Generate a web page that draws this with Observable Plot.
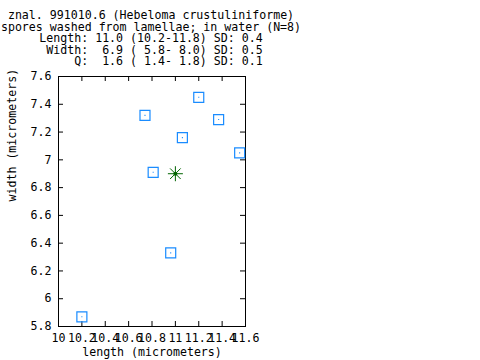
<!DOCTYPE html>
<html>
<head>
<meta charset="utf-8">
<script src="https://cdn.jsdelivr.net/npm/d3@7"></script>
<script src="https://cdn.jsdelivr.net/npm/@observablehq/plot@0.6"></script>
<style>
  html, body { margin: 0; padding: 0; background: #fff; }
  #wrap { width: 480px; height: 360px; position: relative; overflow: hidden; }
  #title {
    width: 302px; padding-top: 10px; height: 58px;
    font-family: "DejaVu Sans Mono", monospace; font-size: 11.6px; line-height: 11.6px;
    white-space: pre; text-align: center; color: #000;
  }
</style>
</head>
<body>
<div id="wrap"><div id="title"></div></div>
<script>
const titleLines = [
  "znal. 991010.6 (Hebeloma crustuliniforme)",
  "spores washed from lamellae; in water (N=8)",
  "Length: 11.0 (10.2-11.8) SD: 0.4",
  " Width:  6.9 ( 5.8- 8.0) SD: 0.5",
  "     Q:  1.6 ( 1.4- 1.8) SD: 0.1"
];
const xLabel = "length (micrometers)";
const yLabel = "width (micrometers)";

const sporeLength = [10.2, 10.74, 10.81, 10.96, 11.06, 11.2, 11.37, 11.55];
const sporeWidth  = [5.87, 7.32, 6.91, 6.33, 7.16, 7.45, 7.29, 7.05];
const meanLength = [11.0];
const meanWidth = [6.9];

const xTicks = [10, 10.2, 10.4, 10.6, 10.8, 11, 11.2, 11.4, 11.6];
const xTickLabels = ["10", "10.2", "10.4", "10.6", "10.8", "11", "11.2", "11.4", "11.6"];
const yTicks = [5.8, 6, 6.2, 6.4, 6.6, 6.8, 7, 7.2, 7.4, 7.6];
const yTickLabels = ["5.8", "6", "6.2", "6.4", "6.6", "6.8", "7", "7.2", "7.4", "7.6"];

document.getElementById("title").textContent = titleLines.join("\n");

const spores = sporeLength.map((x, i) => ({x, y: sporeWidth[i]}));
const means = meanLength.map((x, i) => ({x, y: meanWidth[i]}));

const star8 = {
  draw(context, size) {
    const l = Math.sqrt(size / Math.PI);
    const d = l * Math.SQRT1_2;
    context.moveTo(-l, 0); context.lineTo(l, 0);
    context.moveTo(0, -l); context.lineTo(0, l);
    context.moveTo(-d, -d); context.lineTo(d, d);
    context.moveTo(-d, d); context.lineTo(d, -d);
  }
};

const W = 480, H = 292, mT = 8, mB = 34, mL = 58, mR = 235;
const innerW = W - mL - mR, innerH = H - mT - mB;
const tickLen = 5;
const blue = "#1a8cff", green = "#006400";

const chart = Plot.plot({
  width: W, height: H,
  marginTop: mT, marginBottom: mB, marginLeft: mL, marginRight: mR,
  style: {fontFamily: "'DejaVu Sans Mono', monospace", fontSize: "11.6px", color: "#000", background: "#fff"},
  x: {domain: [10, 11.6], ticks: xTicks, tickFormat: (d, i) => xTickLabels[i], tickSize: 0, tickPadding: 7, label: null},
  y: {domain: [5.8, 7.6], ticks: yTicks, tickFormat: (d, i) => yTickLabels[i], tickSize: 0, tickPadding: 7, label: null},
  marks: [
    Plot.frame({stroke: "#000"}),
    Plot.tickX(xTicks, {x: d => d, insetTop: innerH - tickLen, stroke: "#000"}),
    Plot.tickX(xTicks, {x: d => d, insetBottom: innerH - tickLen, stroke: "#000"}),
    Plot.tickY(yTicks, {y: d => d, insetRight: innerW - tickLen, stroke: "#000"}),
    Plot.tickY(yTicks, {y: d => d, insetLeft: innerW - tickLen, stroke: "#000"}),
    Plot.dot(spores, {x: "x", y: "y", symbol: "square", r: 5.64, stroke: blue, strokeWidth: 1.2, fill: "none"}),
    Plot.dot(spores, {x: "x", y: "y", symbol: "square", r: 0.6, fill: blue, stroke: "none"}),
    Plot.dot(means, {x: "x", y: "y", symbol: star8, r: 7.5, stroke: green, strokeWidth: 1, fill: "none"}),
    Plot.dot(means, {x: "x", y: "y", r: 2, fill: green, stroke: "none"}),
    Plot.text([xLabel], {text: d => d, frameAnchor: "bottom", dy: 26, lineAnchor: "middle", fill: "#000"}),
    Plot.text([yLabel], {text: d => d, frameAnchor: "left", dx: -46, rotate: -90, lineAnchor: "middle", fill: "#000"})
  ]
});
document.getElementById("wrap").appendChild(chart);
</script>
</body>
</html>
